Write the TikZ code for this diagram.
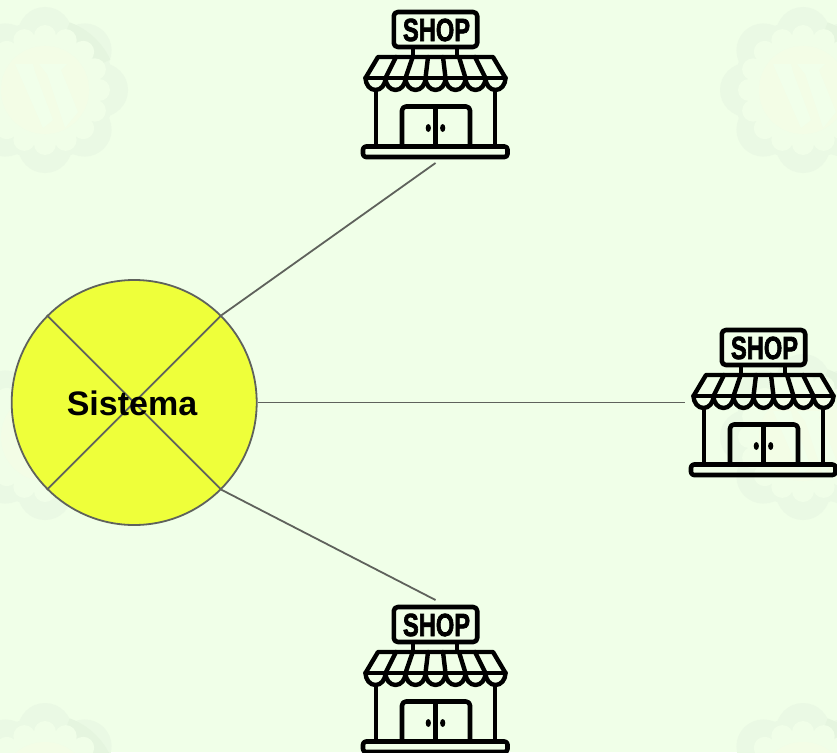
\documentclass[tikz,border=0pt]{standalone}
\usepackage{fontspec}
\setmainfont{Liberation Sans}
\newfontfamily\shopfont[FakeBold=2.6]{Liberation Sans Bold}
\definecolor{pagebg}{HTML}{F0FFE8}
\definecolor{edgegrey}{HTML}{5F625C}
\definecolor{sysfill}{HTML}{EEFF3A}
\definecolor{lobe}{HTML}{EAF9E4}
\definecolor{lobedark}{HTML}{E5F5DF}
\definecolor{ringlight}{HTML}{F0FEE8}
\definecolor{diskyellow}{HTML}{F3FDE6}
\definecolor{wlight}{HTML}{F1FFEA}
\tikzset{
  edge/.style={draw=edgegrey,line width=1.8pt},
  shopline/.style={draw=black,line width=4.6pt,line join=round,line cap=round},
  shopthin/.style={draw=black,line width=4.2pt,line join=round,line cap=butt},
  awning/.style={draw=black,line width=4.4pt,line join=round,line cap=round},
  shop/.pic={
    \begin{scope}[shift={(-435,0)}]
      % sign
      \draw[shopline,rounded corners=4pt] (393.8,12) rectangle (477.2,47);
      \node[inner sep=0pt,xscale=0.74,transform shape,anchor=center] at (436.5,30) {\shopfont\fontsize{32}{32}\selectfont SHOP};
      \draw[shopthin] (412.7,48) -- (412.7,57);
      \draw[shopthin] (457.3,48) -- (457.3,57);
      % walls
      \draw[shopthin] (376,90) -- (376,147);
      \draw[shopthin] (495,90) -- (495,147);
      % door
      \draw[shopline,rounded corners=4pt,line cap=butt] (402,147) -- (402,106.5) -- (470,106.5) -- (470,147);
      \draw[shopthin] (435.5,106) -- (435.5,147);
      \fill (428.3,128) ellipse [x radius=2.6,y radius=4];
      \fill (442.7,128) ellipse [x radius=2.6,y radius=4];
      % awning
      \draw[awning] (365.5,78) -- (378,57) -- (493,57) -- (505.5,78);
      \draw[awning] (385.5,78) -- (396,57);
      \draw[awning] (405.5,78) -- (412.7,57);
      \draw[awning] (425.5,78) -- (428,57);
      \draw[awning] (445.5,78) -- (443,57);
      \draw[awning] (465.5,78) -- (459,57);
      \draw[awning] (485.5,78) -- (475,57);
      \draw[awning] (365.5,78) -- (505.5,78);
      \draw[awning] (365.5,78)
        arc[start angle=180,end angle=0,x radius=10,y radius=12]
        arc[start angle=180,end angle=0,x radius=10,y radius=12]
        arc[start angle=180,end angle=0,x radius=10,y radius=12]
        arc[start angle=180,end angle=0,x radius=10,y radius=12]
        arc[start angle=180,end angle=0,x radius=10,y radius=12]
        arc[start angle=180,end angle=0,x radius=10,y radius=12]
        arc[start angle=180,end angle=0,x radius=10,y radius=12];
      % base
      \draw[shopline,rounded corners=3pt] (363,146.5) rectangle (507.5,157);
    \end{scope}
  },
  badge/.pic={
    \foreach \a in {0,45,...,315}{\fill[lobe] (\a:56) circle (27);}
    \fill[lobe] (0,0) circle (70);
    \fill[lobedark] (-25:72) arc[start angle=-25,end angle=-70,radius=72] -- (-70:58) arc[start angle=-70,end angle=-25,radius=58] -- cycle;
    \foreach \a in {0,22.5,...,337.5}{\fill[ringlight] (\a:54) circle (11);}
    \fill[ringlight] (0,0) circle (56);
    \fill[diskyellow] (0,0) circle (44);
    \fill[wlight] (-30,-26) -- (-12,-26) -- (-10,-18) -- (8,30) -- (-2,38) -- cycle;
    \fill[wlight] (-6,-26) -- (22,-26) -- (16,-20) -- (33,22) -- (20,38) -- (2,-16) -- cycle;
  }
}
\begin{document}
\begin{tikzpicture}[x=1pt,y=-1pt]
  \useasboundingbox (0,0) rectangle (837,752);
  \clip (0,0) rectangle (837,752);
  \fill[pagebg] (0,0) rectangle (837,752);
  % watermark
  \pic at (45,90) {badge};
  \pic at (803,90) {badge};
  \pic at (45,437) {badge};
  \pic at (803,437) {badge};
  \pic at (45,786) {badge};
  \pic at (803,786) {badge};
  % shops
  \pic at (435,0) {shop};
  \pic at (763,318) {shop};
  \pic at (435,595) {shop};
  \coordinate (topport) at (435.5,163);
  \coordinate (rightport) at (685,402.5);
  \coordinate (bottomport) at (435.5,600);
  % system
  \node[circle,draw=edgegrey,line width=1.8pt,fill=sysfill,minimum size=245pt,inner sep=0pt] (sys) at (134.2,402.5) {};
  \draw[edge] (sys.135) -- (sys.-45);
  \draw[edge] (sys.45) -- (sys.-135);
  \draw[edge] (sys.45) -- (topport);
  \draw[edge] (sys.0) -- (rightport);
  \draw[edge] (sys.-45) -- (bottomport);
  \node[font=\bfseries,inner sep=0pt] (syslabel) at (132,403.5) {\fontsize{34}{34}\selectfont Sistema};
\end{tikzpicture}
\end{document}
